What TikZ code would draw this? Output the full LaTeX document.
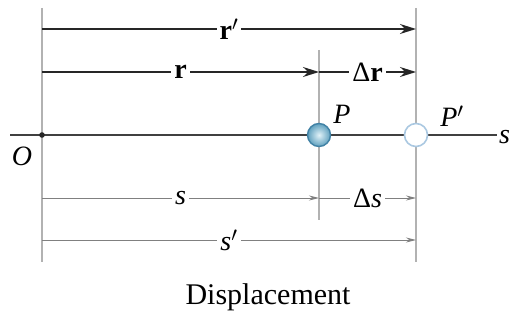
\documentclass[tikz,border=0pt]{standalone}
\usepackage{fontspec}
\setmainfont{Liberation Serif}
\usetikzlibrary{arrows.meta}
\definecolor{ballblue}{RGB}{95,160,190}
\definecolor{ballcore}{RGB}{225,242,248}
\definecolor{rimblue}{RGB}{65,130,165}
\definecolor{lightrim}{RGB}{170,200,225}
\begin{document}
\begin{tikzpicture}[x=1pt,y=-1pt, font=\rmfamily\fontsize{28}{32}\selectfont,
  guide/.style={draw=black!30, line width=1.3pt},
  axisline/.style={draw=black!75, line width=1.3pt},
  darkarrow/.style={draw=black!85, line width=1.6pt, -{Stealth[length=16pt,width=10pt]}},
  thinarrow/.style={draw=black!50, line width=1pt, -{Stealth[length=10pt,width=5pt]}},
  lbl/.style={fill=white, inner sep=3pt},
]
\useasboundingbox (0,0) rectangle (513,323);
% key points
\coordinate (O) at (42,135);
\coordinate (Otop) at (42,8);
\coordinate (Obot) at (42,262);
\coordinate (Ptop) at (319,50);
\coordinate (Pbot) at (319,220);
\coordinate (Qtop) at (416,8);
\coordinate (Qbot) at (416,262);
\coordinate (axL) at (10,135);
\coordinate (axR) at (497,135);
% guide lines
\draw[guide] (Otop) -- (Obot);
\draw[guide] (Ptop) -- (Pbot);
\draw[guide] (Qtop) -- (Qbot);
% axis
\draw[axisline] (axL) -- (axR);
\node (slab) [anchor=west, inner sep=0pt] at (499,137) {\textit{s}};
\fill[black!85] (O) circle (2.8pt);
\node (Olab) at (22,156) {\textit{O}};
% vectors
\coordinate (r1a) at (42,29);
\coordinate (r1b) at (416,29);
\draw[darkarrow] (r1a) -- node[lbl] (rplab) {\textbf{r}$'$} (r1b);
\coordinate (r2a) at (42,72);
\coordinate (r2b) at (319,72);
\coordinate (r2c) at (416,72);
\draw[darkarrow] (r2a) -- node[lbl] (rlab) {\textbf{r}} (r2b);
\draw[darkarrow] (r2b) -- node[lbl] (drlab) {Δ\textbf{r}} (r2c);
% distances
\coordinate (s1a) at (42,198);
\coordinate (s1b) at (319,198);
\coordinate (s1c) at (416,198);
\draw[thinarrow] (s1a) -- node[lbl] (slab2) {\textit{s}} (s1b);
\draw[thinarrow] (s1b) -- node[lbl] (dslab) {Δ\textit{s}} (s1c);
\coordinate (s2a) at (42,240);
\coordinate (s2b) at (416,240);
\draw[thinarrow] (s2a) -- node[lbl] (splab) {\textit{s}$'$} (s2b);
% particles
\node (P) [circle, minimum size=23pt, inner sep=0pt, draw=rimblue, line width=1.4pt,
  shading=radial, inner color=ballcore, outer color=ballblue] at (319,135) {};
\node (Pp) [circle, minimum size=23pt, inner sep=0pt, draw=lightrim, line width=1.6pt,
  fill=white] at (416,135) {};
\node (Plab) at (342,114) {\textit{P}};
\node (Pplab) at (452,116) {\textit{P}$'$};
% caption
\node (cap) [font=\rmfamily\fontsize{30}{34}\selectfont] at (268,297) {Displacement};
\end{tikzpicture}
\end{document}
